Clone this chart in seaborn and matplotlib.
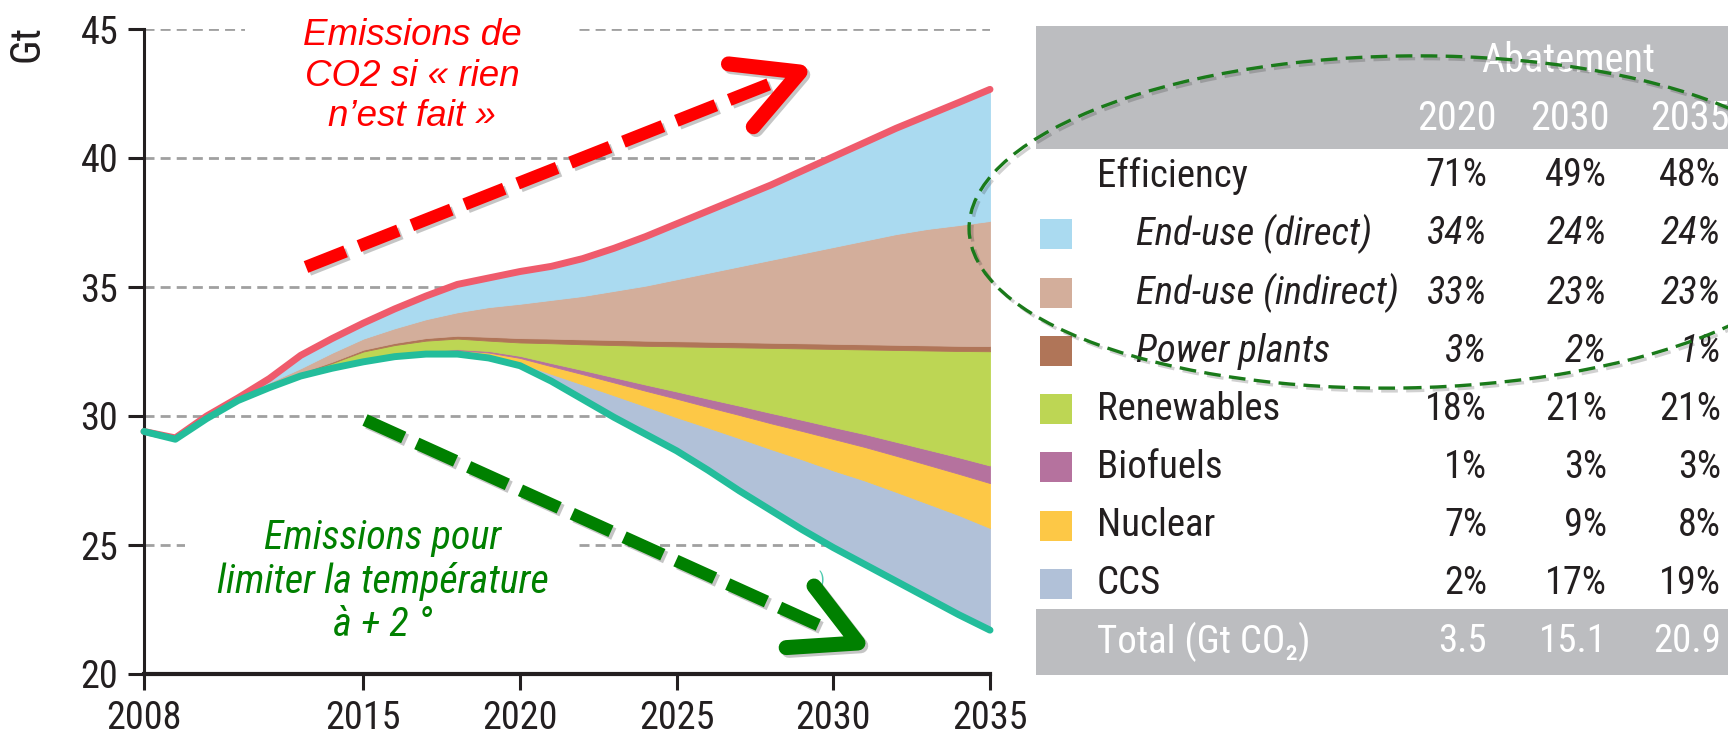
import numpy as np
import pandas as pd
import matplotlib
matplotlib.use("Agg")
import matplotlib.pyplot as plt
import seaborn as sns
from matplotlib.patches import Rectangle, Ellipse
from matplotlib.lines import Line2D
from matplotlib import patheffects as pe
from matplotlib import font_manager as fm

# ---------------- data (Gt CO2) ----------------
years = list(range(2008, 2036))
scenario_450 = [29.4, 29.1, 29.9, 30.6, 31.1, 31.55, 31.85, 32.1, 32.3, 32.4, 32.4, 32.25, 31.95, 31.35,
                30.65, 29.95, 29.3, 28.65, 27.9, 27.1, 26.35, 25.6, 24.9, 24.25, 23.6, 22.95, 22.3, 21.7]
ccs = [0, 0, 0, 0, 0, 0, 0, 0, 0.01, 0.02, 0.03, 0.05, 0.10, 0.28, 0.57, 0.85, 1.08, 1.30, 1.65, 2.04,
       2.37, 2.72, 2.99, 3.25, 3.46, 3.66, 3.86, 3.96]
nuclear = [0, 0, 0, 0, 0, 0, 0, 0.02, 0.05, 0.08, 0.12, 0.16, 0.20, 0.30, 0.40, 0.50, 0.60, 0.72, 0.80,
           0.90, 1.00, 1.10, 1.22, 1.30, 1.40, 1.50, 1.60, 1.74]
biofuels = [0, 0, 0, 0, 0, 0, 0, 0, 0.01, 0.02, 0.04, 0.06, 0.08, 0.12, 0.16, 0.20, 0.24, 0.28, 0.32,
            0.36, 0.40, 0.43, 0.46, 0.50, 0.54, 0.59, 0.64, 0.68]
renewables = [0, 0, 0, 0, 0.05, 0.10, 0.20, 0.38, 0.38, 0.40, 0.41, 0.40, 0.52, 0.77, 1.00, 1.25, 1.50,
              1.75, 2.01, 2.26, 2.52, 2.77, 3.03, 3.28, 3.56, 3.84, 4.12, 4.43]
power_plants = [0, 0, 0, 0, 0, 0.03, 0.05, 0.07, 0.08, 0.10, 0.11, 0.15, 0.17, 0.18, 0.19, 0.20, 0.20,
                0.20, 0.20, 0.20, 0.20, 0.20, 0.20, 0.20, 0.20, 0.20, 0.20, 0.20]
end_use_indirect = [0, 0.02, 0.05, 0.05, 0.15, 0.17, 0.35, 0.43, 0.57, 0.73, 0.91, 1.15, 1.33, 1.50, 1.68,
                    1.90, 2.13, 2.40, 2.67, 2.94, 3.21, 3.48, 3.75, 4.02, 4.29, 4.51, 4.68, 4.85]
end_use_direct = [0, 0.03, 0.05, 0.05, 0.15, 0.50, 0.55, 0.60, 0.75, 0.90, 1.08, 1.13, 1.25, 1.30, 1.45,
                  1.65, 1.90, 2.15, 2.40, 2.65, 2.90, 3.20, 3.50, 3.80, 4.10, 4.40, 4.75, 5.10]

x_ticks = [2008, 2015, 2020, 2025, 2030, 2035]
y_ticks = [20, 25, 30, 35, 40, 45]

table_labels = ["Efficiency", "End-use (direct)", "End-use (indirect)", "Power plants",
                "Renewables", "Biofuels", "Nuclear", "CCS"]
table_italic = [False, True, True, True, False, False, False, False]
table_years = ["2020", "2030", "2035"]
abatement_2020 = ["71%", "34%", "33%", "3%", "18%", "1%", "7%", "2%"]
abatement_2030 = ["49%", "24%", "23%", "2%", "21%", "3%", "9%", "17%"]
abatement_2035 = ["48%", "24%", "23%", "1%", "21%", "3%", "8%", "19%"]
total_gt = ["3.5", "15.1", "20.9"]

# ---------------- styles ----------------
c_direct = "#aadaf0"
c_indirect = "#d3ae9b"
c_power = "#b07558"
c_renew = "#bdd654"
c_bio = "#b5729e"
c_nuc = "#fdc846"
c_ccs = "#b1c1d8"
c_red = "#ef5b6c"
c_teal = "#23bd9b"
row_colors = [None, c_direct, c_indirect, c_power, c_renew, c_bio, c_nuc, c_ccs]

sns.set_theme(style="white")

# pick a narrow font if one is available
ttf = fm.fontManager.ttflist
names = {f.name for f in ttf}
NARROW, STRETCH, SHRINK = None, "normal", 1.0
for cand in ["Liberation Sans Narrow", "Roboto Condensed", "Open Sans Condensed", "Noto Sans Condensed",
             "DejaVu Sans Condensed", "Arial Narrow"]:
    if cand in names:
        NARROW = cand
        break
if NARROW is None:
    for fam in ["DejaVu Sans", "Noto Sans", "Open Sans", "Roboto"]:
        if any(f.name == fam and str(f.stretch) in ("condensed", "semi-condensed", "extra-condensed")
               for f in ttf):
            NARROW, STRETCH = fam, "condensed"
            break
if NARROW is None:
    NARROW, SHRINK = "Roboto", 0.9

plt.rcParams["font.family"] = [NARROW, "DejaVu Sans"]
plt.rcParams["font.stretch"] = STRETCH
TXT = "#231f20"


def fs(v):
    return v * SHRINK


W, H = 1728, 735
fig = plt.figure(figsize=(W / 100, H / 100), dpi=100)
fig.patch.set_facecolor("white")
T = fig.dpi_scale_trans


def P(x, y):
    return (x / 100.0, (H - y) / 100.0)


ax = fig.add_axes([144 / W, (H - 674) / H, (990 - 144) / W, (674 - 29) / H])
ax.set_facecolor("white")

# stacked wedges on top of the 450 scenario
lower = np.array(scenario_450, dtype=float)
for vals, col in [(ccs, c_ccs), (nuclear, c_nuc), (biofuels, c_bio), (renewables, c_renew),
                  (power_plants, c_power), (end_use_indirect, c_indirect), (end_use_direct, c_direct)]:
    upper = lower + np.array(vals, dtype=float)
    ax.fill_between(years, lower, upper, facecolor=col, edgecolor=col, linewidth=0.6, zorder=2)
    lower = upper
baseline = lower

df = pd.DataFrame({"year": years, "baseline": baseline, "scenario": scenario_450})
sns.lineplot(data=df, x="year", y="baseline", color=c_red, linewidth=5, ax=ax, zorder=4,
             solid_capstyle="round", solid_joinstyle="round", clip_on=False)
sns.lineplot(data=df, x="year", y="scenario", color=c_teal, linewidth=5, ax=ax, zorder=4,
             solid_capstyle="round", solid_joinstyle="round", clip_on=False)

ax.set_xlim(2008, 2035)
ax.set_ylim(20, 45)
ax.set_xticks(x_ticks)
ax.set_yticks(y_ticks)
ax.set_xlabel("")
ax.set_ylabel("")
ax.set_axisbelow(True)
ax.yaxis.grid(True, color="#a0a0a0", linestyle=(0, (3.6, 2.2)), linewidth=2)
ax.xaxis.grid(False)
for s in ["top", "right"]:
    ax.spines[s].set_visible(False)
ax.spines["left"].set_linewidth(2.2)
ax.spines["left"].set_color(TXT)
ax.spines["bottom"].set_linewidth(3)
ax.spines["bottom"].set_color(TXT)
ax.tick_params(axis="both", which="major", bottom=True, left=True, direction="out", length=11.5,
               width=2.2, color=TXT, labelsize=fs(27.5), labelcolor=TXT, pad=7)

fig.text(*P(27, 44), "Gt", rotation=90, ha="center", va="center", fontsize=fs(30), color=TXT, transform=T)

# white text boxes hiding grid
ax.add_patch(Rectangle(P(245, 145), (578 - 245) / 100, (145 - 8) / 100, transform=T,
                       facecolor="white", edgecolor="none", zorder=1.5, clip_on=False))
ax.add_patch(Rectangle(P(185, 652), (577 - 185) / 100, (652 - 495) / 100, transform=T,
                       facecolor="white", edgecolor="none", zorder=1.5, clip_on=False))

fig.text(*P(412, 76), "Emissions de\nCO2 si « rien\nn’est fait »", ha="center", va="center",
         color="#ff0000", fontsize=26.5, fontstyle="italic", family=["Liberation Sans", "DejaVu Sans"],
         fontstretch="normal", linespacing=1.22, transform=T, zorder=8)
fig.text(*P(383, 581), "Emissions pour\nlimiter la température\nà + 2 °", ha="center", va="center",
         color="#008000", fontsize=fs(29), fontstyle="italic", family=[NARROW, "DejaVu Sans"],
         linespacing=1.15, transform=T, zorder=8)
fig.text(*P(821, 580), ")", ha="center", va="center", color=c_teal, fontsize=13, alpha=0.8,
         transform=T, zorder=8)

# dashed arrows
shadow = [pe.SimpleLineShadow(offset=(2, -2), shadow_color="k", alpha=0.25), pe.Normal()]


def dashed_arrow(start, tip, color, half_angle=28, arm=72, lw_px=12.5):
    sx, sy = P(*start)
    tx, ty = P(*tip)
    lw = lw_px * 0.72
    d = np.array([tx - sx, ty - sy])
    d = d / np.hypot(*d)
    end = np.array([tx, ty]) - d * 0.3
    fig.add_artist(Line2D([sx, end[0]], [sy, end[1]], transform=T, color=color, lw=lw,
                          dashes=(3.4, 1.15), dash_capstyle="butt", zorder=9, path_effects=shadow))
    back = -d
    pts = []
    for a in (half_angle, -half_angle):
        r = np.radians(a)
        v = np.array([back[0] * np.cos(r) - back[1] * np.sin(r), back[0] * np.sin(r) + back[1] * np.cos(r)])
        pts.append(np.array([tx, ty]) + v * arm / 100)
    fig.add_artist(Line2D([pts[0][0], tx, pts[1][0]], [pts[0][1], ty, pts[1][1]], transform=T,
                          color=color, lw=lw * 1.2, solid_capstyle="round", solid_joinstyle="round",
                          zorder=9, path_effects=shadow))


dashed_arrow((306, 267), (800, 72), "#ff0000")
dashed_arrow((365, 420), (858, 643), "#008000")

# ---------------- table ----------------
fig.add_artist(Rectangle(P(1036, 149), (W - 1036) / 100, (149 - 26) / 100, transform=T,
                         facecolor="#bcbdc0", edgecolor="none", zorder=1))
fig.add_artist(Rectangle(P(1036, 675), (W - 1036) / 100, (675 - 609) / 100, transform=T,
                         facecolor="#bcbdc0", edgecolor="none", zorder=1))
fig.text(*P(1568, 60), "Abatement", ha="center", va="center", color="white", fontsize=fs(29),
         transform=T, zorder=3)
col_right = [1497, 1610, 1730]
for xr, yr in zip(col_right, table_years):
    fig.text(*P(xr, 118), yr, ha="right", va="center", color="white", fontsize=fs(29),
             transform=T, zorder=3)

row_y = [176, 234, 293, 351, 409, 467, 526, 584]
val_right = [1487, 1607, 1721]
for i, lab in enumerate(table_labels):
    y = row_y[i]
    style = "italic" if table_italic[i] else "normal"
    lx = 1136 if table_italic[i] else 1097
    fig.text(*P(lx, y), lab, ha="left", va="center", color=TXT, fontsize=fs(28), fontstyle=style,
             transform=T, zorder=3)
    for xr, col in zip(val_right, [abatement_2020, abatement_2030, abatement_2035]):
        fig.text(*P(xr, y), col[i], ha="right", va="center", color=TXT, fontsize=fs(27.5),
                 fontstyle=style, transform=T, zorder=3)
    if row_colors[i] is not None:
        fig.add_artist(Rectangle(P(1040, y + 15), 0.32, 0.30, transform=T, facecolor=row_colors[i],
                                 edgecolor="none", zorder=2))

fig.text(*P(1097, 642), "Total (Gt CO₂)", ha="left", va="center", color="white", fontsize=fs(28),
         transform=T, zorder=3)
for xr, v in zip(val_right, total_gt):
    fig.text(*P(xr, 642), v, ha="right", va="center", color="white", fontsize=fs(28), transform=T, zorder=3)

# green dashed ellipse
ell = Ellipse(P(1402, 222), 8.66, 3.32, angle=1, transform=T, facecolor="none", edgecolor="#1a7a1a",
              linewidth=2.4, linestyle=(0, (5, 2.5)), zorder=10,
              path_effects=[pe.SimpleLineShadow(offset=(2, -2), alpha=0.2), pe.Normal()])
fig.add_artist(ell)

fig.savefig("out.png", dpi=100, facecolor="white")
